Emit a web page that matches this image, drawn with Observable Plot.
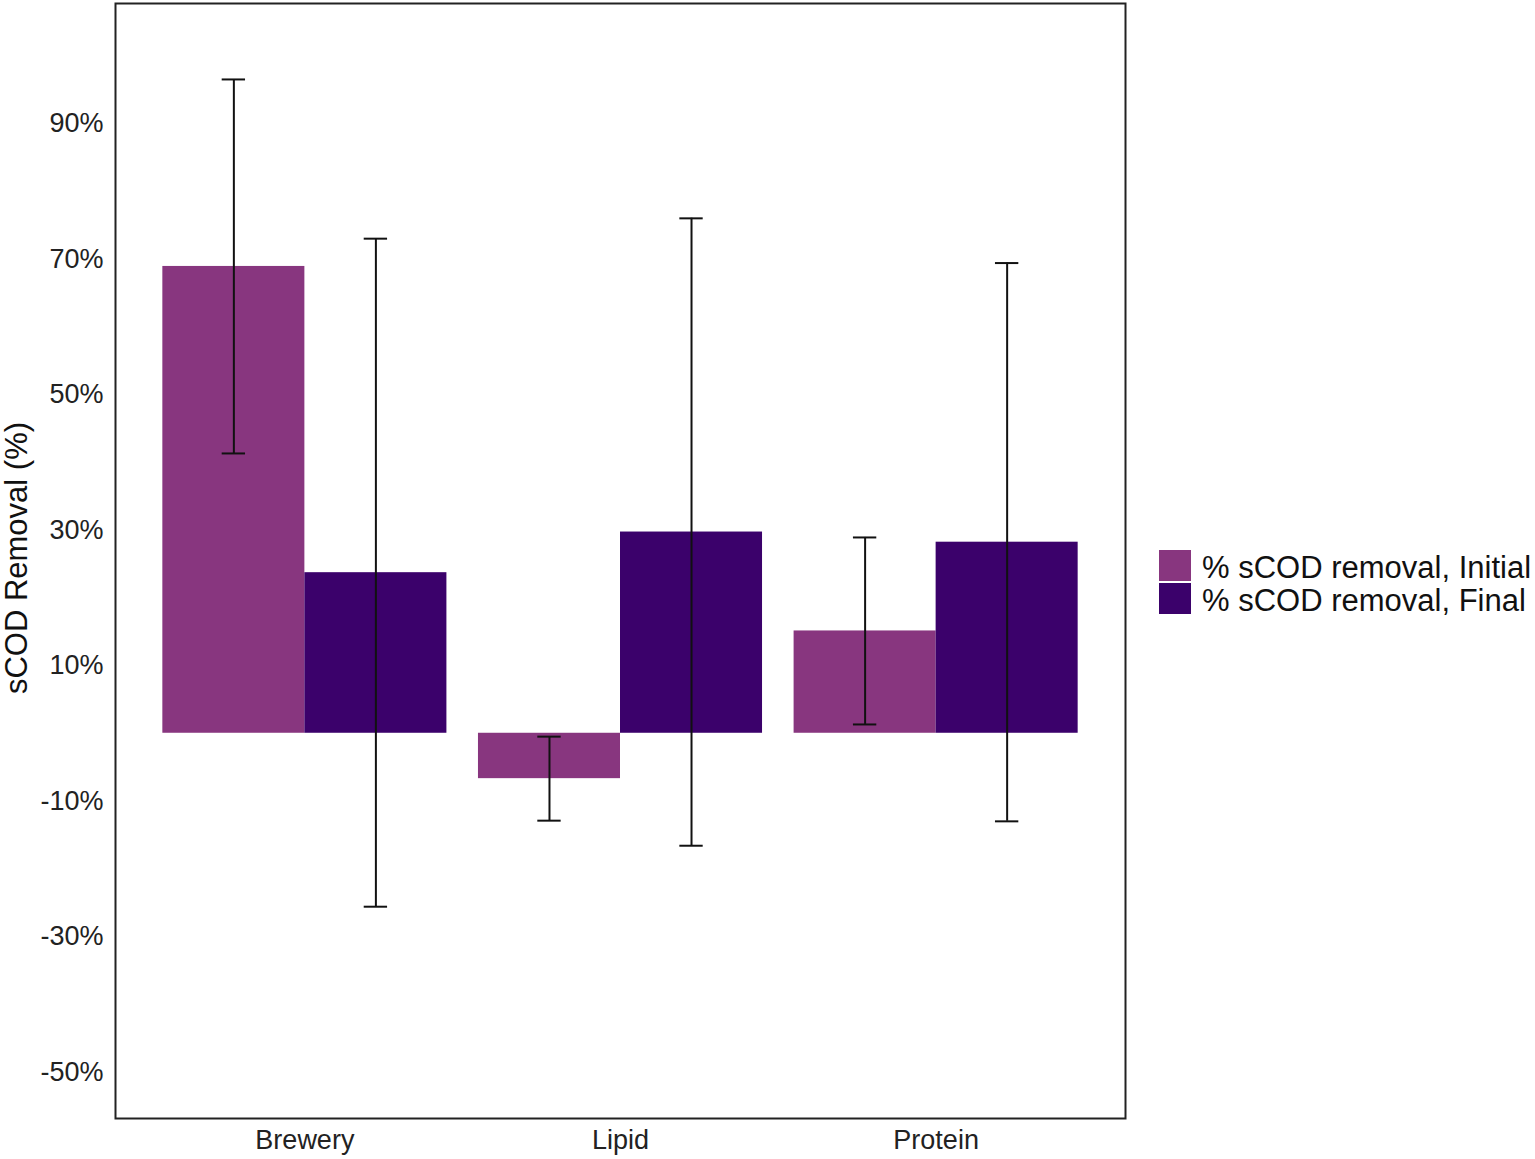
<!DOCTYPE html>
<html>
<head>
<meta charset="utf-8">
<script src="https://cdn.jsdelivr.net/npm/d3@7"></script>
<script src="https://cdn.jsdelivr.net/npm/@observablehq/plot@0.6"></script>
<style>
  body { margin: 0; background: #fff; font-family: "Liberation Sans", Arial, Helvetica, sans-serif; }
  #wrap { position: relative; width: 1535px; height: 1159px; }
  #legend { position: absolute; left: 1159px; top: 549px; color: #111; }
  .row { display: flex; align-items: center; height: 33px; }
  .key { width: 32px; height: 31px; margin-right: 11px; }
  .lab { font-size: 31px; line-height: 33px; white-space: nowrap; position: relative; top: 2px; }
</style>
</head>
<body>
<div id="wrap"><div id="legend"></div></div>
<script>
const categories = ["Brewery", "Lipid", "Protein"];
const seriesNames = ["% sCOD removal, Initial", "% sCOD removal, Final"];
const seriesColors = ["#88367F", "#3B016B"];
const initialMean = [68.9, -6.7, 15.1];
const initialErr = [27.6, 6.2, 13.8];
const finalMean = [23.7, 29.7, 28.2];
const finalErr = [49.3, 46.3, 41.2];
const yTicks = [90, 70, 50, 30, 10, -10, -30, -50];
const yTitle = "sCOD Removal (%)";

const means = [initialMean, finalMean];
const errs = [initialErr, finalErr];
const rows = [];
seriesNames.forEach((s, si) => {
  categories.forEach((c, ci) => {
    rows.push({cat: c, i: ci + 1, s: si, series: s, mean: means[si][ci], err: errs[si][ci]});
  });
});
const halfW = 0.45;
const center = d => d.i - halfW / 2 + d.s * halfW;
const caps = [];
rows.forEach(d => {
  caps.push({c: center(d), v: d.mean + d.err});
  caps.push({c: center(d), v: d.mean - d.err});
});
const capW = 0.037;

const chart = Plot.plot({
  width: 1535,
  height: 1159,
  marginLeft: 115,
  marginRight: 410,
  marginTop: 3,
  marginBottom: 41,
  style: {fontFamily: '"Liberation Sans", Arial, Helvetica, sans-serif', fontSize: "27px", color: "#222", background: "#fff"},
  x: {type: "linear", domain: [0.4, 3.6], ticks: [1, 2, 3], tickFormat: i => categories[i - 1], tickSize: 0, tickPadding: 11, label: null},
  y: {domain: [-56.86, 107.71], ticks: yTicks, tickFormat: d => d + "%", tickSize: 0, tickPadding: 12, label: null},
  color: {domain: seriesNames, range: seriesColors},
  marks: [
    Plot.rectY(rows, {x1: d => d.i - halfW + d.s * halfW, x2: d => d.i + d.s * halfW, y1: 0, y2: "mean", fill: "series"}),
    Plot.ruleX(rows, {x: center, y1: d => d.mean - d.err, y2: d => d.mean + d.err, stroke: "#111", strokeWidth: 2}),
    Plot.ruleY(caps, {y: "v", x1: d => d.c - capW, x2: d => d.c + capW, stroke: "#111", strokeWidth: 2}),
    Plot.frame({stroke: "#222", strokeWidth: 2}),
    Plot.text([yTitle], {frameAnchor: "left", textAnchor: "middle", dx: -98, dy: -3, rotate: -90, fill: "#111", fontSize: 31})
  ]
});
document.getElementById("wrap").prepend(chart);
d3.select(chart).selectAll("text")
  .filter(function() { return this.textContent === yTitle; })
  .attr("font-size", 31)
  .style("font-size", "31px");

const legend = document.getElementById("legend");
seriesNames.forEach((s, i) => {
  const row = document.createElement("div");
  row.className = "row";
  const key = document.createElement("span");
  key.className = "key";
  key.style.background = seriesColors[i];
  const lab = document.createElement("span");
  lab.className = "lab";
  lab.textContent = s;
  row.appendChild(key);
  row.appendChild(lab);
  legend.appendChild(row);
});
</script>
</body>
</html>
